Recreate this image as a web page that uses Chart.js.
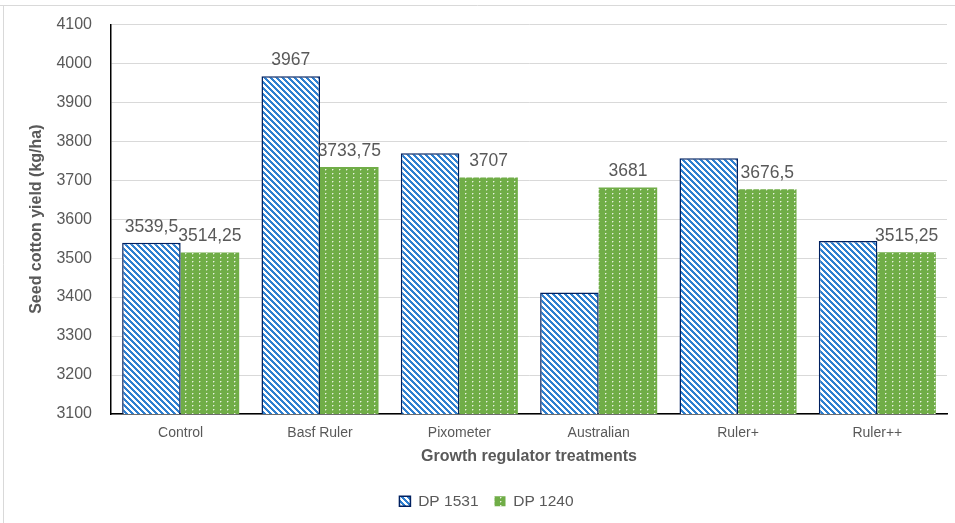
<!DOCTYPE html>
<html>
<head>
<meta charset="utf-8">
<script src="https://cdn.jsdelivr.net/npm/chart.js@4/dist/chart.umd.min.js"></script>
<style>
  html, body { margin: 0; padding: 0; background: #fff; }
  #wrap { width: 955px; height: 523px; position: relative; }
</style>
</head>
<body>
<div id="wrap"><canvas id="c" width="955" height="523"></canvas></div>
<script>
// ---- data ----
const categories = ['Control', 'Basf Ruler', 'Pixometer', 'Australian', 'Ruler+', 'Ruler++'];
const seriesNames = ['DP 1531', 'DP 1240'];
const dp1531 = [3539.5, 3967, 3769, 3412, 3756, 3544];
const dp1240 = [3514.25, 3733.75, 3707, 3681, 3676.5, 3515.25];
const labels1531 = ['3539,5', '3967', null, null, null, null];
const labels1240 = ['3514,25', '3733,75', '3707', '3681', '3676,5', '3515,25'];
const yMin = 3100, yMax = 4100, yStep = 100;
const xTitle = 'Growth regulator treatments';
const yTitle = 'Seed cotton yield (kg/ha)';

// ---- patterns ----
function stripePattern() {
  const c = document.createElement('canvas'); c.width = 6; c.height = 6;
  const g = c.getContext('2d');
  g.fillStyle = '#ffffff'; g.fillRect(0, 0, 6, 6);
  g.fillStyle = '#2F80D0';
  for (let y = 0; y < 6; y++) for (let x = 0; x < 6; x++) {
    if ((((x - y) % 6) + 6) % 6 < 3) g.fillRect(x, y, 1, 1);
  }
  return g.createPattern(c, 'repeat');
}
function dotPattern() {
  const c = document.createElement('canvas'); c.width = 7; c.height = 4;
  const g = c.getContext('2d');
  g.fillStyle = '#70AD47'; g.fillRect(0, 0, 7, 4);
  g.fillStyle = 'rgba(255,255,255,0.85)'; g.fillRect(3, 1, 1, 1);
  g.fillStyle = 'rgba(255,255,255,0.35)'; g.fillRect(4, 1, 1, 1); g.fillRect(3, 2, 1, 1);
  return g.createPattern(c, 'repeat');
}

const textGray = '#595959';
const FONT = "'Liberation Sans', Arial, sans-serif";

const framePlugin = {
  id: 'frame',
  beforeDraw(chart) {
    const ctx = chart.ctx;
    ctx.save();
    ctx.fillStyle = '#ffffff';
    ctx.fillRect(0, 0, chart.width, chart.height);
    ctx.strokeStyle = '#D9D9D9';
    ctx.lineWidth = 1;
    ctx.beginPath();
    ctx.moveTo(0, 5.5); ctx.lineTo(chart.width, 5.5);
    ctx.moveTo(3.5, 5.5); ctx.lineTo(3.5, chart.height);
    ctx.stroke();
    ctx.restore();
  }
};

const valueLabels = [labels1531, labels1240];
const labelPlugin = {
  id: 'valueLabels',
  afterDatasetsDraw(chart) {
    const ctx = chart.ctx;
    ctx.save();
    ctx.font = '17.5px ' + FONT;
    ctx.fillStyle = textGray;
    ctx.textAlign = 'center';
    ctx.textBaseline = 'middle';
    chart.data.datasets.forEach((ds, di) => {
      const meta = chart.getDatasetMeta(di);
      meta.data.forEach((bar, i) => {
        const t = valueLabels[di][i];
        if (t) ctx.fillText(t, bar.x, bar.y - 16);
      });
    });
    ctx.restore();
  }
};

new Chart(document.getElementById('c'), {
  type: 'bar',
  data: {
    labels: categories,
    datasets: [
      { label: seriesNames[0], data: dp1531, backgroundColor: stripePattern(),
        borderColor: '#002060', borderWidth: 1.5, borderSkipped: false },
      { label: seriesNames[1], data: dp1240, backgroundColor: dotPattern(),
        borderColor: '#70AD47', borderWidth: 0 }
    ]
  },
  options: {
    responsive: false,
    animation: false,
    devicePixelRatio: 1,
    layout: { padding: { top: 24.3, left: 26, right: 8, bottom: 4 } },
    datasets: { bar: { categoryPercentage: 0.84, barPercentage: 1.0 } },
    plugins: {
      legend: {
        position: 'bottom',
        labels: { boxWidth: 11, boxHeight: 10, padding: 16, color: textGray,
                  font: { family: FONT, size: 15.5 } }
      },
      tooltip: { enabled: false }
    },
    scales: {
      x: {
        grid: { display: false, drawTicks: false },
        border: { display: true, color: '#000000', width: 1.5 },
        ticks: { color: textGray, font: { family: FONT, size: 14 }, padding: 11, maxRotation: 0 },
        title: { display: true, text: xTitle, color: textGray,
                 font: { family: FONT, size: 16, weight: 'bold' }, padding: { top: 0, bottom: 10.9 } },
        afterFit(scale) { scale.height = 63.5; }
      },
      y: {
        min: yMin, max: yMax,
        ticks: { stepSize: yStep, color: textGray, font: { family: FONT, size: 16 }, padding: 19,
                 callback: (v) => String(v) },
        grid: { color: '#D9D9D9', lineWidth: 1, drawTicks: false },
        border: { display: true, color: '#000000', width: 1.5 },
        title: { display: true, text: yTitle, color: textGray,
                 font: { family: FONT, size: 16, weight: 'bold' }, padding: { top: 1.4, bottom: 0 } },
        afterFit(scale) { scale.width = 85; scale.paddingTop = 0; scale.paddingBottom = 0; }
      }
    }
  },
  plugins: [framePlugin, labelPlugin]
});
</script>
</body>
</html>
